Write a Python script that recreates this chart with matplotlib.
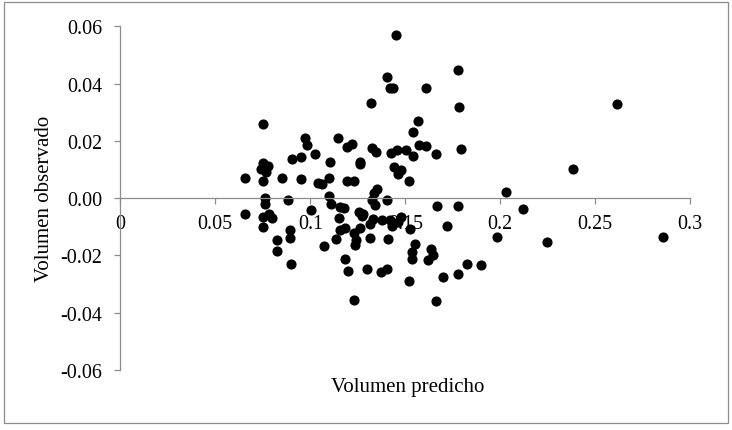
import matplotlib
matplotlib.use("Agg")
import matplotlib.pyplot as plt
from matplotlib.patches import Rectangle
from matplotlib.ticker import FixedLocator, FixedFormatter

plt.rcParams['font.family'] = ['Liberation Serif', 'DejaVu Serif']

predicho = [
    0.0753, 0.0753, 0.0779, 0.0740, 0.0765, 0.0655, 0.0750, 0.0849, 0.0762, 0.0760,
    0.0656, 0.0753, 0.0780, 0.0798, 0.0752, 0.0885, 0.0893, 0.0895, 0.0827, 0.0826,
    0.0897, 0.0905, 0.0953, 0.0953, 0.0972, 0.0985,
    0.1025, 0.1005, 0.1043, 0.1062, 0.1100, 0.1104, 0.1098, 0.1107, 0.1071, 0.1147,
    0.1191, 0.1221, 0.1195, 0.1232, 0.1261, 0.1264, 0.1158, 0.1176, 0.1153, 0.1157,
    0.1185, 0.1137, 0.1182, 0.1199, 0.1231, 0.1255, 0.1279, 0.1274, 0.1261, 0.1231,
    0.1242, 0.1233, 0.1299,
    0.1318, 0.1402, 0.1420, 0.1437, 0.1453, 0.1569, 0.1542, 0.1323, 0.1346, 0.1425,
    0.1455, 0.1502, 0.1542, 0.1572, 0.1611, 0.1442, 0.1477, 0.1463, 0.1521, 0.1349,
    0.1336, 0.1325, 0.1402, 0.1340, 0.1332, 0.1314, 0.1376, 0.1420, 0.1429, 0.1460,
    0.1477, 0.1525, 0.1315, 0.1408, 0.1551, 0.1537, 0.1537, 0.1634, 0.1646, 0.1618,
    0.1370, 0.1402, 0.1518, 0.1662, 0.1609,
    0.1660, 0.1792, 0.1779, 0.1784, 0.1667, 0.1775, 0.1718, 0.1697, 0.1779, 0.1823,
    0.1897, 0.1981, 0.2032, 0.2118, 0.2244, 0.2383, 0.2613, 0.2858,
]
observado = [
    0.0259, 0.0121, 0.0113, 0.0101, 0.0093, 0.0069, 0.0059, 0.0072, 0.0002, -0.0021,
    -0.0057, -0.0067, -0.0055, -0.0068, -0.0102, -0.0008, -0.0110, -0.0140, -0.0146, -0.0183,
    -0.0230, 0.0135, 0.0143, 0.0068, 0.0210, 0.0184,
    0.0155, -0.0040, 0.0053, 0.0048, 0.0071, 0.0126, 0.0009, -0.0021, -0.0168, 0.0210,
    0.0177, 0.0190, 0.0060, 0.0059, 0.0127, 0.0118, -0.0032, -0.0034, -0.0069, -0.0110,
    -0.0105, -0.0142, -0.0212, -0.0255, -0.0357, -0.0049, -0.0055, -0.0064, -0.0103, -0.0122,
    -0.0145, -0.0162, -0.0247,
    0.0332, 0.0422, 0.0383, 0.0383, 0.0570, 0.0268, 0.0232, 0.0174, 0.0161, 0.0157,
    0.0169, 0.0168, 0.0147, 0.0187, 0.0182, 0.0108, 0.0097, 0.0083, 0.0061, 0.0031,
    0.0017, -0.0005, -0.0008, -0.0024, -0.0072, -0.0090, -0.0078, -0.0078, -0.0096, -0.0085,
    -0.0065, -0.0107, -0.0139, -0.0143, -0.0161, -0.0189, -0.0212, -0.0178, -0.0197, -0.0216,
    -0.0258, -0.0247, -0.0290, -0.0360, 0.0385,
    0.0155, 0.0170, 0.0449, 0.0317, -0.0026, -0.0028, -0.0098, -0.0274, -0.0264, -0.0229,
    -0.0234, -0.0134, 0.0021, -0.0037, -0.0154, 0.0103, 0.0328, -0.0136,
]

x_ticks = [0, 0.05, 0.1, 0.15, 0.2, 0.25, 0.3]
x_tick_labels = ["0", "0.05", "0.1", "0.15", "0.2", "0.25", "0.3"]
y_ticks = [-0.06, -0.04, -0.02, 0.0, 0.02, 0.04, 0.06]
y_tick_labels = ["-0.06", "-0.04", "-0.02", "0.00", "0.02", "0.04", "0.06"]

W, H = 732, 431
fig = plt.figure(figsize=(W / 100, H / 100), dpi=100)
fig.patches.append(Rectangle((4 / W, 1 - 424 / H), 724 / W, 421 / H,
                             transform=fig.transFigure, fill=False,
                             edgecolor='#8c8c8c', linewidth=0.9))

ax = fig.add_axes([120.3 / W, 1 - 371 / H, 570 / W, 343.7 / H])
ax.plot(predicho, observado, 'o', color='black', markersize=6.3, linestyle='none',
        clip_on=False)
ax.set_xlim(0, 0.3)
ax.set_ylim(-0.06, 0.06)

for s in ['top', 'right']:
    ax.spines[s].set_visible(False)
ax.spines['bottom'].set_position(('data', 0))
for s in ['left', 'bottom']:
    ax.spines[s].set_color('#8c8c8c')
    ax.spines[s].set_linewidth(0.9)

ax.xaxis.set_major_locator(FixedLocator(x_ticks))
ax.xaxis.set_major_formatter(FixedFormatter(x_tick_labels))
ax.yaxis.set_major_locator(FixedLocator(y_ticks))
ax.yaxis.set_major_formatter(FixedFormatter(y_tick_labels))
ax.tick_params(axis='both', direction='out', length=4, width=0.9, color='#8c8c8c',
               labelsize=14.4, labelcolor='black')
ax.tick_params(axis='x', pad=7.5)
ax.tick_params(axis='y', pad=9)

fig.text(408 / W, 1 - 388 / H, "Volumen predicho", ha='center', va='center', fontsize=15)
fig.text(44.6 / W, 1 - 199 / H, "Volumen observado", ha='center', va='center',
         rotation=90, fontsize=15)

fig.savefig("out.png", dpi=100)
